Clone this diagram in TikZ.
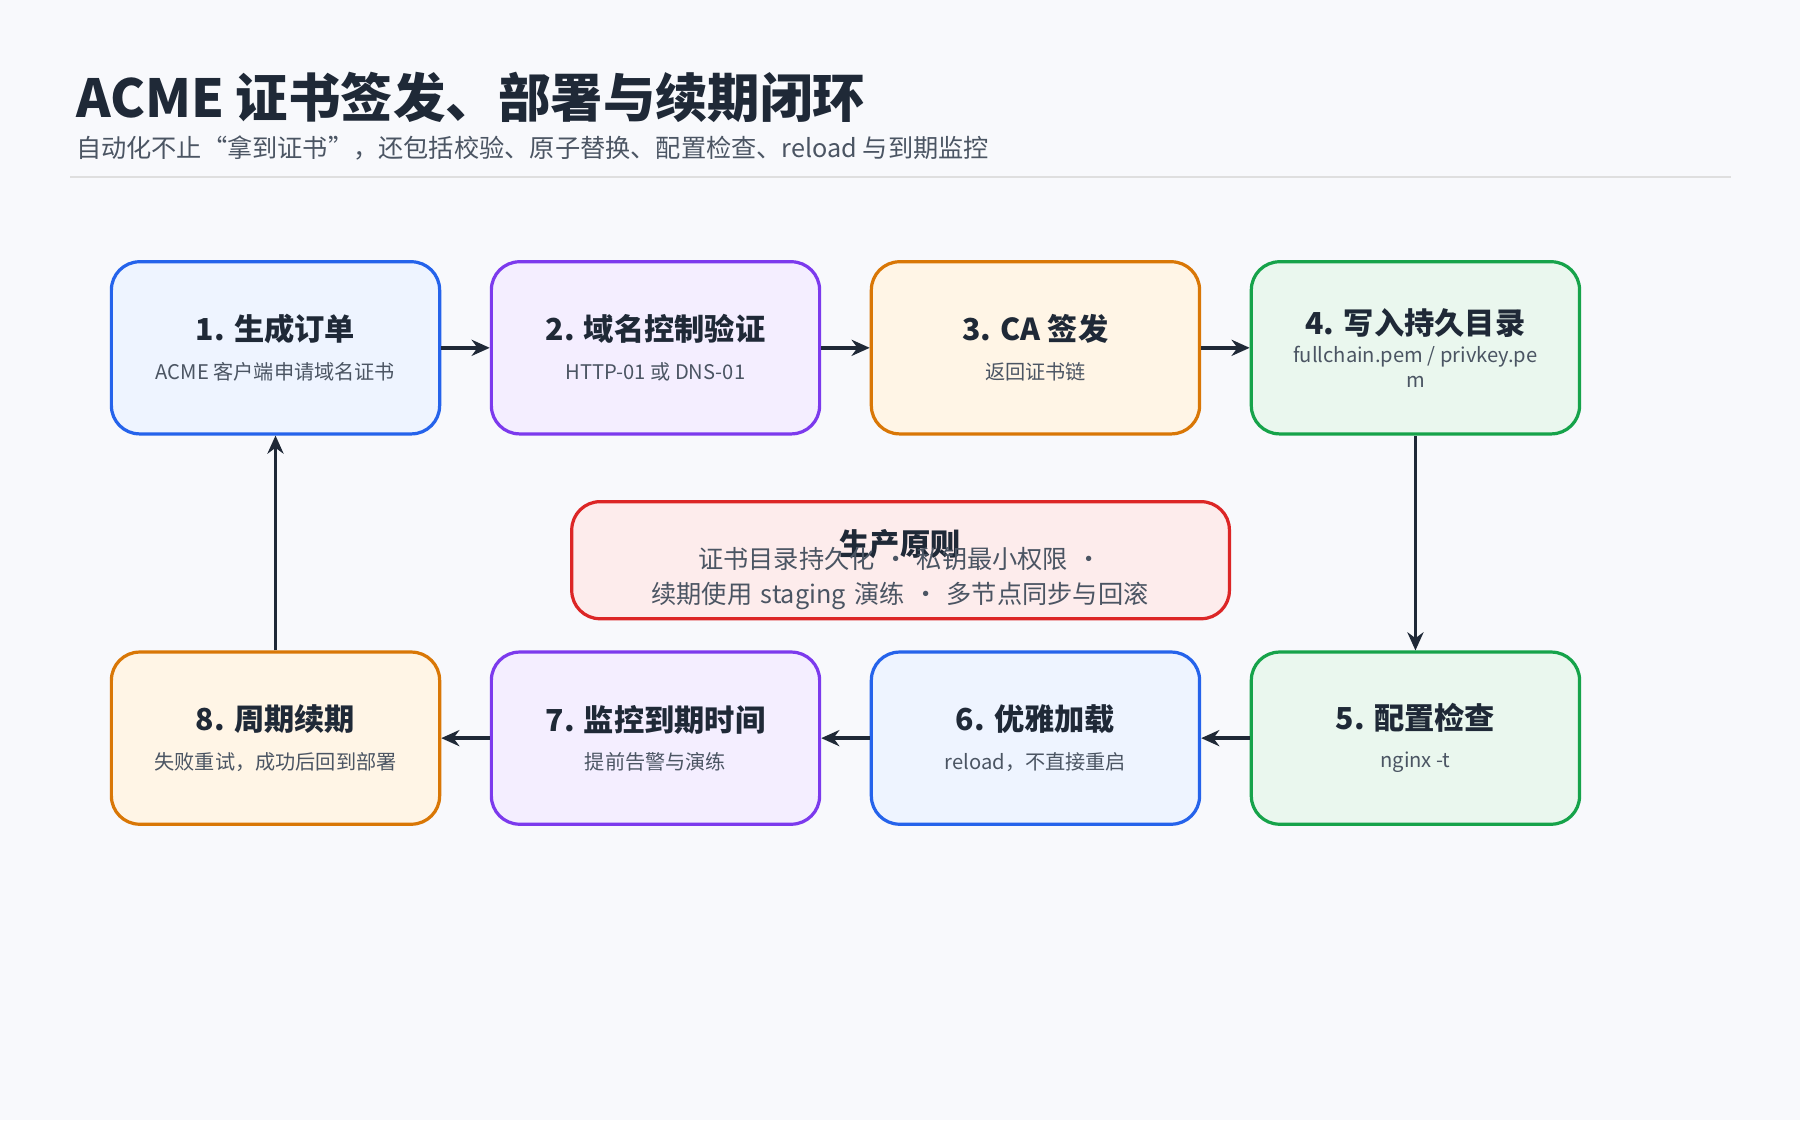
\documentclass[tikz,border=0pt]{standalone}
\usepackage{fontspec}
\setmainfont{Noto Sans CJK SC}
\usetikzlibrary{positioning}
\usetikzlibrary{arrows.meta}
\definecolor{bg}{HTML}{F8F9FC}
\definecolor{ink}{HTML}{1F2937}
\definecolor{sub}{HTML}{4B5563}
\definecolor{bluE}{HTML}{2563EB}\definecolor{bluF}{HTML}{EEF4FF}
\definecolor{purE}{HTML}{7C3AED}\definecolor{purF}{HTML}{F4EEFF}
\definecolor{orgE}{HTML}{D97706}\definecolor{orgF}{HTML}{FFF5E6}
\definecolor{grnE}{HTML}{16A34A}\definecolor{grnF}{HTML}{EAF7EE}
\definecolor{redE}{HTML}{DC2626}\definecolor{redF}{HTML}{FDECEC}
\tikzset{
  step/.style={draw=#1E, fill=#1F, line width=1.6pt, rounded corners=14pt,
    minimum width=5.72cm, minimum height=3cm, align=center, text=ink},
  flow/.style={line width=1.8pt, draw=ink, -{Stealth[length=9pt,width=8pt]}},
}
\newcommand{\steptitle}[1]{{\fontsize{15}{18}\selectfont\bfseries #1}}
\newcommand{\stepsub}[1]{{\fontsize{10}{13}\selectfont\color{sub}#1}}
\newcommand{\stepbox}[2]{\steptitle{#1}\\[7pt]\stepsub{#2}}
\begin{document}
\begin{tikzpicture}[x=0.02cm,y=-0.02cm]
\fill[bg] (0,0) rectangle (1568,976);
\useasboundingbox (0,0) rectangle (1568,976);
\node[anchor=base west, text=ink, font=\fontsize{26}{30}\selectfont\bfseries] (title) at (60,102) {ACME 证书签发、部署与续期闭环};
\node[anchor=base west, text=sub, font=\fontsize{12.5}{15}\selectfont] (subtitle) at (60,137) {自动化不止“拿到证书”，还包括校验、原子替换、配置检查、reload 与到期监控};
\draw[line width=0.8pt, draw=gray!25] (61,154) -- (1508,154);

\node[step=blu] (s1) at (240,303) {\stepbox{1. 生成订单}{ACME 客户端申请域名证书}};
\node[step=pur] (s2) at (571,303) {\stepbox{2. 域名控制验证}{HTTP-01 或 DNS-01}};
\node[step=org] (s3) at (902,303) {\stepbox{3. CA 签发}{返回证书链}};
\node[step=grn] (s4) at (1233,303) {\steptitle{4. 写入持久目录}\\[2pt]\stepsub{fullchain.pem / privkey.pe}\\\stepsub{m}};
\node[step=grn] (s5) at (1233,643) {\stepbox{5. 配置检查}{nginx -t}};
\node[step=blu] (s6) at (902,643) {\stepbox{6. 优雅加载}{reload，不直接重启}};
\node[step=pur] (s7) at (571,643) {\stepbox{7. 监控到期时间}{提前告警与演练}};
\node[step=org] (s8) at (240,643) {\stepbox{8. 周期续期}{失败重试，成功后回到部署}};

\node[draw=redE, fill=redF, line width=1.6pt, rounded corners=14pt,
  minimum width=11.46cm, minimum height=2.04cm] (rule) at (784.5,488) {};
\node[text=ink, font=\fontsize{15}{18}\selectfont\bfseries] (ruleT) at (784,474) {生产原则};
\node[text=sub, align=center, text width=14.6cm, font=\fontsize{12.5}{17}\selectfont] (ruleB) at (784,504)
  {证书目录持久化 · 私钥最小权限 · 续期使用 staging 演练 · 多节点同步与回滚};

\draw[flow] (s1) -- (s2);
\draw[flow] (s2) -- (s3);
\draw[flow] (s3) -- (s4);
\draw[flow] (s4) -- (s5);
\draw[flow] (s5) -- (s6);
\draw[flow] (s6) -- (s7);
\draw[flow] (s7) -- (s8);
\draw[flow] (s8) -- (s1);
\end{tikzpicture}
\end{document}
